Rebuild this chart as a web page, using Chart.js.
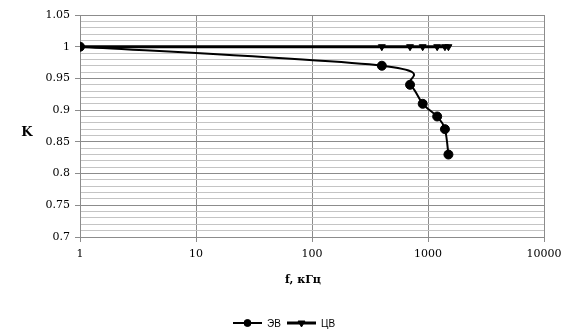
<!DOCTYPE html>
<html>
<head>
<meta charset="utf-8">
<script src="https://cdn.jsdelivr.net/npm/chart.js@4.4.1/dist/chart.umd.min.js"></script>
<style>
  body { margin: 0; background: #fff; }
  #wrap { width: 572px; height: 335px; }
</style>
</head>
<body>
<div id="wrap"><canvas id="myChart" width="572" height="335"></canvas></div>
<script>
// data
const freqEV = [1, 400, 700, 900, 1200, 1400, 1500];   // f, kHz
const kEV = [1, 0.97, 0.94, 0.91, 0.89, 0.87, 0.83];
const freqCV = [1, 400, 700, 900, 1200, 1400, 1500];
const kCV = [1, 1, 1, 1, 1, 1, 1];
const xTickValues = [1, 10, 100, 1000, 10000];
const seriesNames = ["ЭВ", "ЦВ"];
const xTitle = "f, кГц";
const yTitle = "K";

const tickFont = { family: "DejaVu Serif", size: 11 };

function isMajor(v) {
    return Math.abs(v * 20 - Math.round(v * 20)) < 1e-6;
}

// Excel-like smoothing (Catmull-Rom, 1/6 factor) on the points the library placed
const excelSmooth = {
    id: "excelSmooth",
    beforeDatasetDraw(chart, args) {
        const meta = args.meta;
        const line = meta.dataset;
        if (!line || !line.options.tension) return;
        line.updateControlPoints(chart.chartArea, "x");
        const pts = meta.data;
        for (let i = 0; i < pts.length; i++) {
            const p = pts[i];
            const prev = pts[i - 1] || p;
            const next = pts[i + 1] || p;
            const dx = (next.x - prev.x) / 6;
            const dy = (next.y - prev.y) / 6;
            p.cp1x = p.x - dx; p.cp1y = p.y - dy;
            p.cp2x = p.x + dx; p.cp2y = p.y + dy;
        }
        line._path = undefined;
    }
};

// axis titles and the legend at the bottom
const extras = {
    id: "extras",
    afterDraw(chart) {
        const ctx = chart.ctx;
        ctx.save();
        ctx.fillStyle = "#000";
        ctx.textBaseline = "middle";
        ctx.textAlign = "center";
        ctx.font = "bold 13px 'DejaVu Serif'";
        ctx.fillText(yTitle, 27, 133);
        ctx.font = "bold 11px 'DejaVu Serif'";
        ctx.fillText(xTitle, 303, 280);

        // legend
        const ly = 323;
        const items = [
            { x: 233, style: "circle", r: 3.5, rot: 0, w: 2 },
            { x: 287, style: "triangle", r: 4, rot: 180, w: 3 }
        ];
        ctx.font = "10px 'Liberation Sans'";
        ctx.textAlign = "left";
        items.forEach((it, i) => {
            ctx.strokeStyle = "#000";
            ctx.lineWidth = it.w;
            ctx.beginPath();
            ctx.moveTo(it.x, ly);
            ctx.lineTo(it.x + 29, ly);
            ctx.stroke();
            ctx.fillStyle = "#000";
            ctx.lineWidth = 1;
            Chart.helpers.drawPoint(ctx, {
                pointStyle: it.style, radius: it.r, rotation: it.rot, borderWidth: 1
            }, it.x + 14.5, ly);
            ctx.fillStyle = "#000";
            ctx.fillText(seriesNames[i], it.x + 34, ly + 1);
        });
        ctx.restore();
    }
};

const ctx = document.getElementById("myChart").getContext("2d");
new Chart(ctx, {
    type: "line",
    data: {
        datasets: [
            {
                label: seriesNames[0],
                data: freqEV.map((f, i) => ({ x: f, y: kEV[i] })),
                borderColor: "#000",
                backgroundColor: "#000",
                borderWidth: 2,
                pointStyle: "circle",
                pointRadius: 4.5,
                pointBorderWidth: 1,
                tension: 0.4,
                fill: false
            },
            {
                label: seriesNames[1],
                data: freqCV.map((f, i) => ({ x: f, y: kCV[i] })),
                borderColor: "#000",
                backgroundColor: "#000",
                borderWidth: 3,
                pointStyle: "triangle",
                pointRotation: 180,
                pointRadius: 4,
                pointBorderWidth: 1,
                tension: 0,
                fill: false
            }
        ]
    },
    options: {
        responsive: false,
        animation: false,
        devicePixelRatio: 1,
        layout: { padding: { left: 0, top: 15, right: 28, bottom: 0 } },
        plugins: {
            legend: { display: false },
            tooltip: { enabled: false }
        },
        scales: {
            x: {
                type: "logarithmic",
                min: 1,
                max: 10000,
                afterBuildTicks: (scale) => {
                    scale.ticks = xTickValues.map(v => ({ value: v }));
                },
                afterFit: (scale) => { scale.height = 98; },
                ticks: {
                    font: tickFont,
                    color: "#000",
                    padding: 6,
                    maxRotation: 0,
                    autoSkip: false,
                    callback: (v) => String(v)
                },
                grid: {
                    color: "#8c8c8c",
                    tickColor: "#8c8c8c",
                    tickLength: 5,
                    lineWidth: 1
                },
                border: { color: "#8c8c8c" }
            },
            y: {
                min: 0.7,
                max: 1.05,
                afterFit: (scale) => { scale.width = 80; },
                ticks: {
                    stepSize: 0.01,
                    autoSkip: false,
                    font: tickFont,
                    color: "#000",
                    padding: 5,
                    callback: (v) => isMajor(v) ? String(+v.toFixed(2)) : ""
                },
                grid: {
                    color: (c) => isMajor(c.tick.value) ? "#8c8c8c" : "#c4c4c4",
                    tickColor: (c) => isMajor(c.tick.value) ? "#8c8c8c" : "rgba(0,0,0,0)",
                    tickLength: 5,
                    lineWidth: 1
                },
                border: { color: "#8c8c8c" }
            }
        }
    },
    plugins: [excelSmooth, extras]
});
</script>
</body>
</html>
